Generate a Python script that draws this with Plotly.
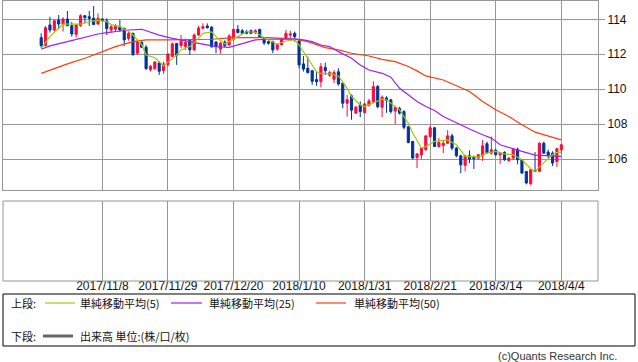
import plotly.graph_objects as go

W, H = 638, 362

tick_labels = ["2017/11/8", "2017/11/29", "2017/12/20", "2018/1/10",
               "2018/1/31", "2018/2/21", "2018/3/14", "2018/4/4"]
tick_index = [14, 29, 44, 59, 74, 89, 104, 119]

opens = [112.95, 112.50, 113.68, 113.39, 113.96, 113.73, 114.02, 113.64, 113.14, 113.64,
         114.21, 114.15, 114.06, 113.73, 114.02, 113.92, 113.39, 113.43, 113.58, 113.49,
         112.90, 113.20, 112.06, 112.67, 112.40, 111.12, 111.18, 111.50, 111.07, 111.42,
         111.88, 112.62, 112.50, 112.45, 112.80, 112.25, 113.10, 113.49, 113.62, 113.55,
         112.70, 112.30, 112.70, 112.53, 112.85, 113.43, 113.35, 113.30, 113.35, 113.24,
         113.43, 112.91, 112.72, 112.72, 112.30, 112.55, 112.93, 113.10, 113.20, 112.75,
         111.45, 111.20, 111.06, 110.55, 110.43, 111.25, 110.80, 110.57, 111.00, 110.34,
         109.20, 109.62, 108.63, 109.10, 108.67, 109.08, 109.29, 110.15, 108.97, 109.50,
         109.39, 108.75, 108.90, 108.72, 107.85, 107.01, 106.08, 106.25, 106.55, 107.29,
         107.79, 106.72, 106.78, 106.91, 107.33, 106.63, 106.19, 105.64, 106.19, 106.12,
         106.06, 106.19, 106.88, 106.34, 106.50, 106.25, 106.38, 105.92, 106.06, 106.57,
         105.96, 105.29, 104.59, 105.35, 105.30, 106.91, 106.40, 106.34, 105.86, 106.53]
highs = [113.20, 113.62, 114.15, 113.98, 114.25, 114.12, 114.48, 113.85, 113.73, 114.29,
         114.25, 114.48, 114.76, 114.34, 114.05, 114.06, 113.68, 113.73, 113.96, 113.52,
         113.30, 113.24, 112.82, 112.75, 112.53, 111.39, 111.60, 111.60, 111.58, 112.05,
         112.67, 112.65, 113.10, 112.90, 112.85, 113.20, 113.62, 113.77, 113.77, 113.62,
         112.75, 112.72, 112.80, 113.15, 113.45, 113.68, 113.45, 113.40, 113.42, 113.43,
         113.45, 112.95, 112.80, 112.78, 112.60, 112.95, 113.39, 113.35, 113.30, 112.85,
         111.90, 111.87, 111.10, 111.00, 111.50, 111.52, 111.05, 111.10, 111.20, 110.40,
         109.68, 109.70, 109.05, 109.30, 109.20, 109.45, 110.45, 110.25, 109.65, 109.60,
         109.45, 109.05, 109.00, 108.80, 107.90, 107.05, 106.32, 106.65, 107.35, 107.90,
         107.85, 107.20, 107.10, 107.65, 107.45, 106.70, 106.25, 106.25, 106.50, 106.20,
         106.30, 107.10, 107.00, 107.29, 106.60, 106.40, 106.45, 106.10, 106.60, 106.65,
         106.00, 105.30, 105.45, 106.40, 106.95, 107.00, 106.55, 106.45, 106.65, 106.85]
lows = [112.34, 112.45, 113.24, 113.30, 113.43, 113.30, 113.60, 113.01, 112.95, 113.58,
        113.77, 113.62, 113.68, 113.70, 113.85, 113.10, 113.24, 113.30, 113.30, 112.48,
        112.78, 111.90, 111.96, 112.35, 111.10, 111.01, 111.10, 110.82, 110.88, 111.30,
        111.83, 111.39, 112.34, 112.25, 111.96, 112.21, 113.05, 113.43, 113.47, 112.40,
        112.06, 112.02, 112.40, 112.50, 112.78, 113.20, 113.15, 113.15, 113.15, 113.15,
        112.95, 112.53, 112.55, 112.06, 112.20, 112.50, 112.88, 112.90, 112.72, 111.20,
        111.01, 110.90, 110.25, 110.20, 110.10, 110.82, 110.70, 110.35, 110.20, 108.91,
        108.43, 108.25, 108.60, 108.40, 108.60, 109.00, 109.20, 108.91, 108.40, 108.65,
        108.60, 108.00, 108.55, 107.70, 106.90, 105.98, 105.49, 106.00, 106.45, 107.25,
        106.70, 106.65, 106.35, 106.85, 106.50, 106.10, 105.20, 105.30, 105.77, 105.43,
        105.95, 105.90, 106.30, 106.25, 106.20, 105.73, 105.90, 105.83, 105.95, 105.70,
        105.15, 104.55, 104.50, 105.25, 105.25, 106.30, 106.05, 105.60, 105.56, 106.30]
closes = [112.50, 113.52, 113.39, 113.92, 113.73, 114.02, 113.64, 113.16, 113.68, 114.21,
          114.10, 114.06, 113.70, 114.06, 113.92, 113.47, 113.58, 113.62, 113.39, 112.82,
          113.20, 112.00, 112.70, 112.40, 111.18, 111.32, 111.56, 111.03, 111.45, 112.02,
          112.60, 111.95, 112.75, 112.68, 112.25, 113.10, 113.50, 113.58, 113.52, 112.42,
          112.45, 112.63, 112.50, 113.05, 113.43, 113.24, 113.20, 113.20, 113.20, 113.35,
          113.01, 112.65, 112.63, 112.25, 112.55, 112.85, 113.20, 113.16, 113.01, 111.39,
          111.15, 110.95, 110.45, 110.43, 111.29, 111.06, 110.95, 110.95, 110.30, 109.20,
          109.40, 108.80, 108.97, 108.72, 109.16, 109.33, 110.15, 109.00, 109.54, 109.35,
          108.72, 108.95, 108.63, 107.82, 106.95, 106.06, 106.30, 106.63, 107.33, 107.79,
          106.72, 106.95, 106.91, 107.33, 106.63, 106.19, 105.67, 106.19, 106.00, 106.02,
          106.25, 106.76, 106.36, 106.53, 106.25, 106.34, 105.96, 106.06, 106.57, 105.96,
          105.20, 104.63, 105.39, 105.30, 106.91, 106.34, 106.20, 105.77, 106.59, 106.82]

# moving averages (trading-day index, value)
ma5_index = [0, 2, 4, 5, 7, 9, 11, 13, 15, 16, 18, 20, 21, 23, 24, 26, 27, 28, 29, 31,
             32, 34, 36, 37, 39, 40, 42, 43, 45, 47, 49, 52, 54, 56, 58, 59, 61, 63, 64, 66,
             68, 70, 71, 73, 74, 76, 78, 79, 81, 82, 84, 85, 87, 88, 90, 93, 95, 97, 100, 102,
             104, 106, 108, 110, 112, 113, 115, 117, 118, 119]
ma5_values = [112.34, 113.01, 113.49, 113.73, 113.73, 113.73, 113.87, 113.96, 113.87, 113.70,
              113.58, 113.30, 113.10, 112.55, 111.96, 111.80, 111.58, 111.33, 111.55, 111.96,
              112.25, 112.44, 112.91, 113.20, 113.28, 113.01, 112.59, 112.72, 113.01, 113.30,
              113.26, 112.80, 112.59, 112.76, 112.82, 112.53, 111.80, 111.00, 110.91, 110.88,
              110.76, 110.05, 109.58, 109.10, 109.01, 109.24, 109.43, 109.39, 109.01, 108.82,
              108.05, 107.49, 106.63, 106.72, 107.01, 107.10, 106.82, 106.15, 106.11, 106.34,
              106.44, 106.30, 106.25, 105.96, 105.45, 105.30, 105.80, 106.25, 106.38, 106.40]
ma25_index = [0, 2, 6, 10, 13, 15, 18, 20, 23, 24, 27, 30, 33, 36, 40, 43, 46, 49, 52, 55,
              58, 60, 62, 64, 66, 68, 71, 73, 75, 78, 80, 82, 84, 86, 88, 90, 92, 95, 98, 101,
              103, 105, 108, 110, 113, 116, 119]
ma25_values = [112.29, 112.48, 112.72, 112.97, 113.16, 113.24, 113.35, 113.39, 113.43, 113.35,
               113.10, 112.91, 112.78, 112.65, 112.44, 112.40, 112.63, 112.82, 112.86, 112.88,
               112.88, 112.82, 112.72, 112.53, 112.44, 112.15, 111.77, 111.39, 111.10, 110.91,
               110.69, 110.05, 109.68, 109.30, 109.01, 108.78, 108.44, 108.06, 107.72, 107.39,
               107.20, 106.82, 106.57, 106.44, 106.23, 106.19, 106.15]
ma50_index = [0, 2, 6, 10, 14, 17, 21, 24, 29, 33, 39, 44, 48, 52, 55, 58, 61, 63, 65, 68,
              71, 75, 78, 81, 84, 86, 88, 92, 95, 98, 101, 104, 107, 110, 113, 116, 119]
ma50_values = [110.91, 111.10, 111.45, 111.77, 112.15, 112.44, 112.72, 112.82, 112.82, 112.82,
               112.86, 112.95, 112.97, 112.95, 112.91, 112.86, 112.72, 112.53, 112.38, 112.25,
               112.06, 111.90, 111.71, 111.58, 111.30, 111.05, 110.76, 110.53, 110.19, 109.87,
               109.30, 108.82, 108.44, 107.96, 107.54, 107.30, 107.10]

RED = "#ff0a3c"
BLUE = "#00339a"
GRID = "#969696"
C5, C25, C50 = "#9acd00", "#9f1dff", "#ff3c0a"

x = list(range(len(closes)))

fig = go.Figure()
fig.add_trace(go.Candlestick(
    x=x, open=opens, high=highs, low=lows, close=closes,
    increasing=dict(line=dict(color=RED, width=1), fillcolor=RED),
    decreasing=dict(line=dict(color=BLUE, width=1), fillcolor=BLUE),
    whiskerwidth=0, showlegend=False, hoverinfo="skip", xaxis="x", yaxis="y"))
for idx, vals, col in [(ma50_index, ma50_values, C50),
                       (ma25_index, ma25_values, C25),
                       (ma5_index, ma5_values, C5)]:
    fig.add_trace(go.Scatter(x=idx, y=vals, mode="lines", line=dict(color=col, width=1.2),
                             showlegend=False, hoverinfo="skip", xaxis="x", yaxis="y"))
fig.add_trace(go.Scatter(x=[None], y=[None], mode="lines", showlegend=False,
                         xaxis="x2", yaxis="y2"))

def px_x(p):
    return p / W

def px_y(p):
    return 1 - p / H

xdom = [px_x(3), px_x(598)]
xrange_ = [-8.74, 127.4]
tickfont = dict(family="Liberation Sans, Arial, sans-serif", size=12, color="#111111")

fig.update_layout(
    width=W, height=H, margin=dict(l=0, r=0, t=0, b=0),
    paper_bgcolor="white", plot_bgcolor="white", showlegend=False,
    xaxis=dict(domain=xdom, range=xrange_, anchor="y", tickvals=tick_index,
               showticklabels=False, ticks="", showgrid=True, gridcolor=GRID, gridwidth=1,
               showline=True, mirror=True, linecolor=GRID, linewidth=1, zeroline=False,
               rangeslider=dict(visible=False)),
    yaxis=dict(domain=[px_y(190), px_y(1)], range=[104.23, 115.05], anchor="x",
               side="right", tickvals=[106, 108, 110, 112, 114], ticks="outside", ticklen=6,
               tickcolor=GRID, showgrid=True, gridcolor=GRID, gridwidth=1,
               showline=True, mirror=True, linecolor=GRID, linewidth=1, zeroline=False,
               tickfont=tickfont),
    xaxis2=dict(domain=xdom, range=xrange_, anchor="free", position=px_y(277),
                tickvals=tick_index, ticktext=tick_labels, ticks="", showgrid=True,
                gridcolor=GRID, gridwidth=1, showline=False, zeroline=False,
                tickfont=tickfont),
    yaxis2=dict(domain=[px_y(281), px_y(201)], range=[0, 1], anchor="x2",
                showgrid=False, showticklabels=False, ticks="", zeroline=False,
                showline=False),
)

shapes = [
    dict(type="rect", xref="paper", yref="paper", x0=px_x(3), x1=px_x(598),
         y0=px_y(281), y1=px_y(201), line=dict(color=GRID, width=1)),
    dict(type="rect", xref="paper", yref="paper", x0=px_x(3), x1=px_x(635),
         y0=px_y(346), y1=px_y(294), line=dict(color="black", width=1)),
]
for x0, x1, yy, col, wd in [(45, 75, 303, C5, 1.2), (171, 202, 303, C25, 1.2),
                            (316, 346, 303, C50, 1.2), (43, 73, 336, "#666666", 3)]:
    shapes.append(dict(type="line", xref="paper", yref="paper", x0=px_x(x0), x1=px_x(x1),
                       y0=px_y(yy), y1=px_y(yy), line=dict(color=col, width=wd)))
fig.update_layout(shapes=shapes)

jp = dict(family="Noto Sans CJK JP, sans-serif", size=11, color="#111111")
annots = [("上段:", 9, 303), ("単純移動平均(5)", 78, 303), ("単純移動平均(25)", 207, 303),
          ("単純移動平均(50)", 352, 303), ("下段:", 9, 336), ("出来高 単位:(株/口/枚)", 78, 336)]
for txt, ax, ay in annots:
    fig.add_annotation(text=txt, xref="paper", yref="paper", x=px_x(ax), y=px_y(ay),
                       xanchor="left", yanchor="middle", showarrow=False, font=jp)
fig.add_annotation(text="(c)Quants Research Inc.", xref="paper", yref="paper",
                   x=px_x(619), y=px_y(356), xanchor="right", yanchor="middle",
                   showarrow=False,
                   font=dict(family="Liberation Sans, Arial, sans-serif", size=11, color="#333333"))

fig.write_html("out.html", config={"displayModeBar": False},
               post_script="document.body.style.margin='0px';document.body.style.padding='0px';")
